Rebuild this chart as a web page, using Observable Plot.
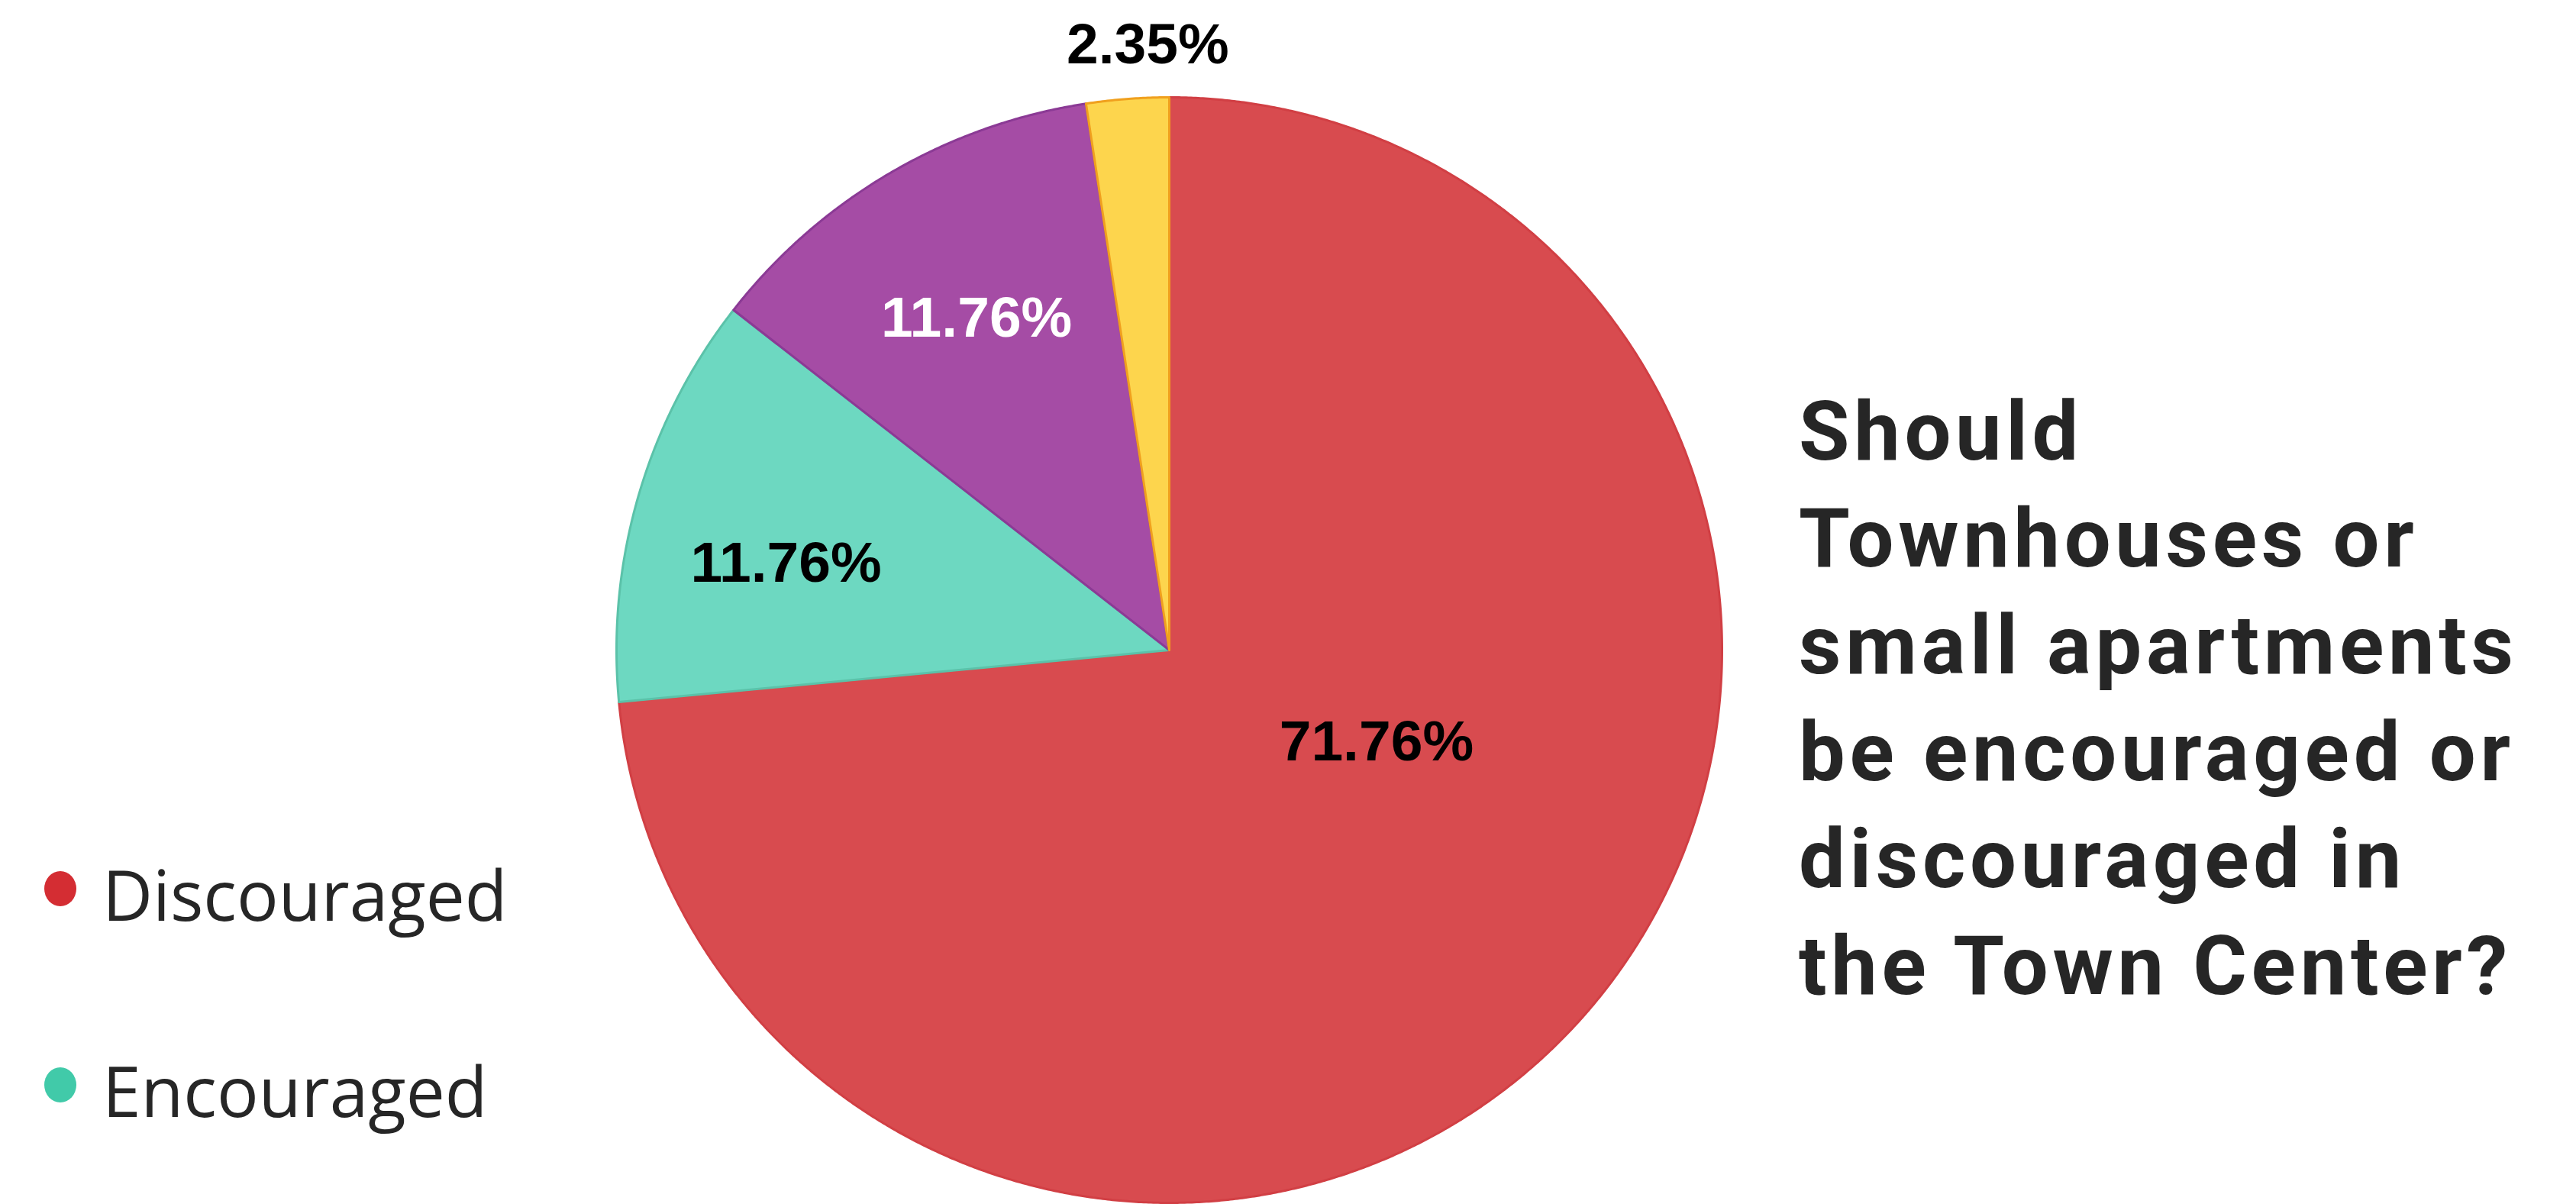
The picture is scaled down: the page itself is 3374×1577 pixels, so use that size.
<!DOCTYPE html>
<html>
<head>
<meta charset="utf-8">
<script src="https://cdn.jsdelivr.net/npm/d3@7"></script>
<script src="https://cdn.jsdelivr.net/npm/@observablehq/plot@0.6"></script>
<style>
  html, body { margin: 0; padding: 0; background: #ffffff; }
  #wrap { position: relative; width: 3374px; height: 1577px; overflow: hidden; background: #ffffff; }
  #wrap > svg { position: absolute; left: 0; top: 0; }
  #overlay { position: absolute; left: 0; top: 0; pointer-events: none; }
</style>
</head>
<body>
<div id="wrap"></div>
<script>
// ---------- data ----------
const categories = ["Discouraged", "Encouraged", "Neutral", "No opinion"];
const values = [71.76, 11.76, 11.76, 2.35];
const colors = ["#d84b4f", "#6dd8c1", "#a54ca5", "#fdd54d"];
const edgeColors = ["#d13f44", "#5bc2a9", "#8b3a95", "#f0a01e"];
const legendCategories = ["Discouraged", "Encouraged"];
const legendColors = ["#d42d33", "#41caa9"];
const titleLines = [
  "Should",
  "Townhouses or",
  "small apartments",
  "be encouraged or",
  "discouraged in",
  "the Town Center?"
];

// ---------- layout ----------
const W = 3374, H = 1577;
const cx = 1531, cy = 851, R = 724;

const arcs = d3.pie().sort(null).value(d => d)(values);
const step = Math.PI / 720;
const wedges = arcs.map((a, i) => {
  const cat = categories[i];
  const pts = [{cat, x: 0, y: 0}];
  const n = Math.max(2, Math.ceil((a.endAngle - a.startAngle) / step));
  for (let k = 0; k <= n; k++) {
    const t = a.startAngle + (a.endAngle - a.startAngle) * k / n;
    pts.push({cat, x: Math.sin(t), y: Math.cos(t)});
  }
  pts.push({cat, x: 0, y: 0});
  return pts;
});

const labelR = [0.41, 0.711, 0.694, 1.095];
const labelShift = [-18.4, -3.5, 0.2, 2.3];
const labelInk = ["black", "black", "white", "black"];
const labels = arcs.map((a, i) => {
  const t = (a.startAngle + a.endAngle) / 2 + labelShift[i] * Math.PI / 180;
  return {x: labelR[i] * Math.sin(t), y: labelR[i] * Math.cos(t),
          text: values[i].toFixed(2) + "%", ink: labelInk[i]};
});

const textStyle = {x: "x", y: "y", text: "text", fontSize: 75, fontWeight: "bold",
                   fontFamily: "Liberation Sans, Arial, sans-serif"};

const plot = Plot.plot({
  width: W,
  height: H,
  margin: 0,
  style: {background: "transparent", overflow: "visible"},
  x: {domain: [-1, 1], range: [cx - R, cx + R], axis: null},
  y: {domain: [-1, 1], range: [cy + R, cy - R], axis: null},
  color: {domain: categories, range: colors},
  marks: [
    ...wedges.map((pts, i) => Plot.line(pts, {
      x: "x", y: "y", fill: "cat", stroke: edgeColors[i], strokeWidth: 3,
      strokeLinejoin: "round", curve: "linear"
    })),
    Plot.text(labels.filter(d => d.ink === "black"), {...textStyle, fill: "black"}),
    Plot.text(labels.filter(d => d.ink === "white"), {...textStyle, fill: "white"})
  ]
});
document.getElementById("wrap").appendChild(plot);

// ---------- title + legend overlay ----------
const ov = d3.select("#wrap").append("svg")
  .attr("id", "overlay").attr("width", W).attr("height", H);

const titleFont = "bold 108px Roboto";
const ctx = document.createElement("canvas").getContext("2d");
ctx.font = titleFont;
const refW = ctx.measureText("small apartments").width;
const ls = (936 - refW) / 15;

ov.append("g")
  .attr("font-family", "Roboto, sans-serif")
  .attr("font-weight", "bold")
  .attr("font-size", 108)
  .attr("fill", "#262626")
  .attr("letter-spacing", ls)
  .selectAll("text").data(titleLines).join("text")
  .attr("x", 2356)
  .attr("y", (d, i) => 602 + i * 140)
  .text(d => d);

const lg = ov.append("g");
const legendRows = legendCategories.map((c, i) => ({c, col: legendColors[i], base: [1206, 1463][i]}));
lg.selectAll("ellipse").data(legendRows).join("ellipse")
  .attr("cx", 79)
  .attr("cy", d => d.base - 42)
  .attr("rx", 21).attr("ry", 23)
  .attr("fill", d => d.col);
lg.selectAll("text").data(legendRows).join("text")
  .attr("x", 134)
  .attr("y", d => d.base)
  .attr("font-family", "Open Sans, sans-serif")
  .attr("font-size", 91)
  .attr("fill", "#262626")
  .text(d => d.c);
</script>
</body>
</html>
